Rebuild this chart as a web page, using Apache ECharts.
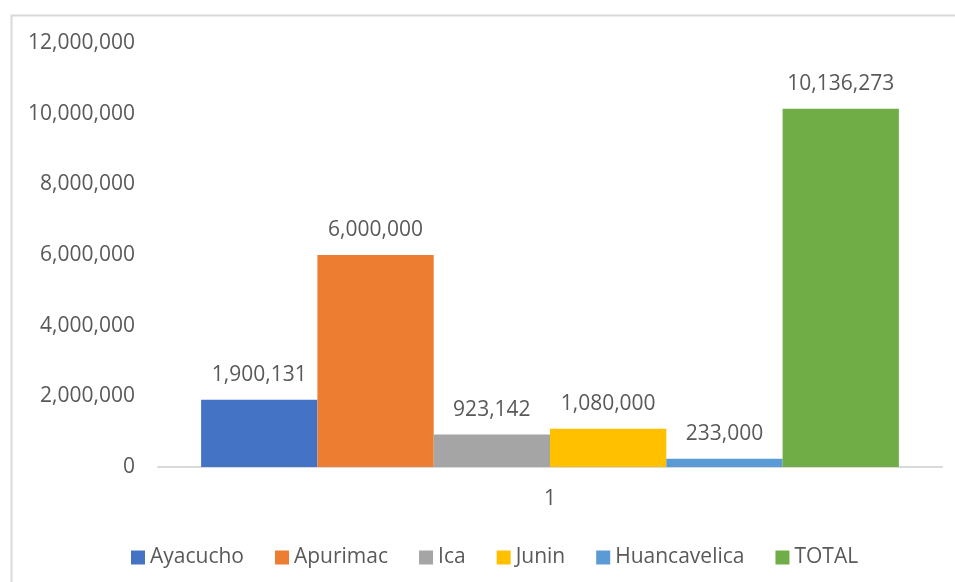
<!DOCTYPE html>
<html><head><meta charset="utf-8">
<script src="https://cdn.jsdelivr.net/npm/echarts@6/dist/echarts.min.js"></script>
<style>html,body{margin:0;padding:0;background:#fff}#c{width:955px;height:582px}</style>
</head><body><div id="c"></div>
<script>
const categories = ['1'];
const seriesNames = ['Ayacucho', 'Apurimac', 'Ica', 'Junin', 'Huancavelica', 'TOTAL'];
const seriesValues = [1900131, 6000000, 923142, 1080000, 233000, 10136273];
const seriesColors = ['#4472C4', '#ED7D31', '#A5A5A5', '#FFC000', '#5B9BD5', '#70AD47'];
const yMin = 0, yMax = 12000000, yInterval = 2000000;

const font = 'Open Sans';
const txt = '#595959';
const fmt = v => Number(v).toLocaleString('en-US');

const chart = echarts.init(document.getElementById('c'));
chart.setOption({
  animation: false,
  textStyle: { fontFamily: font },
  graphic: [{
    type: 'rect', left: 9, top: 13, silent: true,
    shape: { width: 960, height: 600 },
    style: { fill: 'none', stroke: '#d9d9d9', lineWidth: 2 }
  }],
  grid: { left: 158, right: 13, top: 43, bottom: 115, containLabel: false },
  legend: {
    left: 126, top: 542,
    itemWidth: 14, itemHeight: 14, itemGap: 31,
    icon: 'rect',
    textStyle: { color: txt, fontSize: 21, fontFamily: font },
    data: seriesNames
  },
  xAxis: {
    type: 'category', data: categories,
    axisLine: { lineStyle: { color: '#d9d9d9', width: 2 } },
    axisTick: { show: false },
    axisLabel: { color: txt, fontSize: 21, fontFamily: font, margin: 22 }
  },
  yAxis: {
    type: 'value', min: yMin, max: yMax, interval: yInterval,
    splitLine: { show: false },
    axisLine: { show: false }, axisTick: { show: false },
    axisLabel: { color: txt, fontSize: 21, fontFamily: font, margin: 23, formatter: fmt }
  },
  series: seriesNames.map((n, i) => ({
    name: n, type: 'bar',
    barGap: '0%', barCategoryGap: '11%',
    itemStyle: { color: seriesColors[i] },
    label: { show: true, position: 'top', distance: 14, color: txt, fontSize: 21, fontFamily: font, formatter: p => fmt(p.value) },
    data: [seriesValues[i]]
  }))
});
</script></body></html>
